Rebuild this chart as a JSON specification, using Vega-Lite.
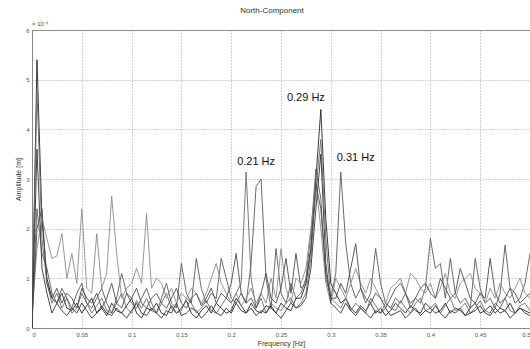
{
  "$schema": "https://vega.github.io/schema/vega-lite/v6.json",
  "width": 498,
  "height": 298,
  "autosize": "none",
  "padding": {"left": 32, "top": 30, "right": 0, "bottom": 21},
  "background": "white",
  "title": {"text": "North-Component", "fontSize": 8, "fontWeight": "normal", "color": "#333", "font": "Liberation Sans", "offset": 6, "dx": -9},
  "config": {
    "font": "Liberation Sans",
    "view": {"stroke": "#888", "strokeWidth": 1},
    "axis": {"labelFontSize": 6, "labelColor": "#555", "titleFontSize": 7, "titleFontWeight": "normal", "titleColor": "#333", "gridColor": "#999", "gridDash": [1, 2], "gridOpacity": 0.9, "ticks": false, "domainColor": "#888", "labelPadding": 3}
  },
  "layer": [
    {
      "data": {"values": [
        {"hz":0,"a":0.0,"b":0.1,"c":0.2,"d":0.3,"e":0.0,"f":0.1},
        {"hz":0.005,"a":5.4,"b":4.8,"c":2.4,"d":1.6,"e":3.6,"f":2.0},
        {"hz":0.01,"a":2.2,"b":1.8,"c":1.5,"d":2.2,"e":1.2,"f":2.4},
        {"hz":0.015,"a":1.0,"b":0.9,"c":1.2,"d":1.8,"e":0.7,"f":0.9},
        {"hz":0.02,"a":0.6,"b":0.5,"c":0.7,"d":1.4,"e":0.3,"f":0.6},
        {"hz":0.025,"a":0.5,"b":0.7,"c":0.5,"d":1.45,"e":0.5,"f":0.8},
        {"hz":0.03,"a":0.7,"b":0.4,"c":0.8,"d":1.9,"e":0.35,"f":0.5},
        {"hz":0.035,"a":0.4,"b":0.6,"c":0.6,"d":1.0,"e":0.25,"f":0.7},
        {"hz":0.04,"a":0.35,"b":0.3,"c":0.4,"d":1.5,"e":0.4,"f":0.6},
        {"hz":0.045,"a":0.5,"b":0.4,"c":0.7,"d":0.9,"e":0.3,"f":0.4},
        {"hz":0.05,"a":0.3,"b":0.7,"c":0.9,"d":2.4,"e":0.5,"f":0.8},
        {"hz":0.055,"a":0.45,"b":0.5,"c":0.5,"d":0.8,"e":0.35,"f":0.6},
        {"hz":0.06,"a":0.6,"b":0.3,"c":0.4,"d":0.7,"e":0.2,"f":0.5},
        {"hz":0.065,"a":0.3,"b":0.45,"c":0.6,"d":1.9,"e":0.3,"f":0.7},
        {"hz":0.07,"a":0.4,"b":0.6,"c":0.8,"d":0.8,"e":0.45,"f":0.4},
        {"hz":0.075,"a":0.25,"b":0.35,"c":0.5,"d":1.1,"e":0.3,"f":0.6},
        {"hz":0.08,"a":0.5,"b":0.3,"c":0.3,"d":2.65,"e":0.25,"f":0.9},
        {"hz":0.085,"a":0.35,"b":0.5,"c":0.6,"d":1.5,"e":0.4,"f":0.5},
        {"hz":0.09,"a":0.3,"b":0.7,"c":1.1,"d":0.6,"e":0.3,"f":0.4},
        {"hz":0.095,"a":0.45,"b":0.4,"c":0.7,"d":0.8,"e":0.2,"f":0.7},
        {"hz":0.1,"a":0.6,"b":0.3,"c":0.5,"d":0.9,"e":0.35,"f":0.6},
        {"hz":0.105,"a":0.3,"b":0.55,"c":0.4,"d":1.2,"e":0.5,"f":0.8},
        {"hz":0.11,"a":0.2,"b":0.4,"c":0.6,"d":0.9,"e":0.3,"f":0.5},
        {"hz":0.115,"a":0.4,"b":0.6,"c":0.8,"d":2.3,"e":0.25,"f":0.4},
        {"hz":0.12,"a":0.35,"b":0.35,"c":0.5,"d":0.8,"e":0.4,"f":0.6},
        {"hz":0.125,"a":0.5,"b":0.3,"c":0.3,"d":1.0,"e":0.3,"f":0.7},
        {"hz":0.13,"a":0.3,"b":0.5,"c":0.6,"d":0.9,"e":0.2,"f":0.5},
        {"hz":0.135,"a":0.25,"b":0.7,"c":0.9,"d":0.6,"e":0.35,"f":0.4},
        {"hz":0.14,"a":0.45,"b":0.4,"c":0.5,"d":0.8,"e":0.3,"f":0.6},
        {"hz":0.145,"a":0.3,"b":0.3,"c":0.4,"d":0.5,"e":0.5,"f":0.8},
        {"hz":0.15,"a":0.4,"b":0.35,"c":1.3,"d":0.7,"e":0.25,"f":0.5},
        {"hz":0.155,"a":0.55,"b":0.6,"c":0.7,"d":0.6,"e":0.3,"f":0.4},
        {"hz":0.16,"a":0.3,"b":0.5,"c":0.5,"d":0.8,"e":0.4,"f":0.6},
        {"hz":0.165,"a":0.2,"b":0.3,"c":1.4,"d":0.7,"e":0.35,"f":0.7},
        {"hz":0.17,"a":0.35,"b":0.4,"c":0.8,"d":0.5,"e":0.2,"f":0.45},
        {"hz":0.175,"a":0.45,"b":0.55,"c":0.5,"d":0.7,"e":0.3,"f":0.6},
        {"hz":0.18,"a":0.3,"b":0.35,"c":0.7,"d":1.0,"e":0.45,"f":0.8},
        {"hz":0.185,"a":0.5,"b":0.3,"c":0.6,"d":1.3,"e":0.3,"f":0.5},
        {"hz":0.19,"a":0.4,"b":0.45,"c":1.4,"d":0.9,"e":0.25,"f":0.7},
        {"hz":0.195,"a":0.3,"b":0.6,"c":1.0,"d":0.7,"e":0.4,"f":0.6},
        {"hz":0.2,"a":0.35,"b":0.5,"c":0.6,"d":0.5,"e":0.3,"f":0.9},
        {"hz":0.205,"a":0.6,"b":0.7,"c":0.5,"d":0.7,"e":0.5,"f":1.5},
        {"hz":0.21,"a":0.45,"b":0.9,"c":0.7,"d":0.45,"e":0.35,"f":0.7},
        {"hz":0.215,"a":0.3,"b":3.14,"c":0.5,"d":0.6,"e":0.3,"f":0.5},
        {"hz":0.22,"a":0.5,"b":1.0,"c":1.3,"d":0.8,"e":0.4,"f":0.6},
        {"hz":0.225,"a":0.35,"b":0.4,"c":2.85,"d":0.5,"e":0.25,"f":0.4},
        {"hz":0.23,"a":0.3,"b":0.6,"c":3.0,"d":0.7,"e":0.35,"f":0.7},
        {"hz":0.235,"a":0.45,"b":0.3,"c":1.0,"d":0.5,"e":0.3,"f":1.1},
        {"hz":0.24,"a":0.4,"b":0.5,"c":0.4,"d":1.0,"e":0.45,"f":0.6},
        {"hz":0.245,"a":0.3,"b":0.4,"c":1.6,"d":0.6,"e":0.3,"f":0.5},
        {"hz":0.25,"a":0.5,"b":0.35,"c":0.7,"d":1.6,"e":0.2,"f":0.8},
        {"hz":0.255,"a":0.4,"b":0.5,"c":0.5,"d":0.8,"e":0.35,"f":1.4},
        {"hz":0.26,"a":0.35,"b":0.6,"c":0.9,"d":0.5,"e":0.5,"f":0.7},
        {"hz":0.265,"a":0.6,"b":0.4,"c":0.6,"d":1.0,"e":0.4,"f":1.5},
        {"hz":0.27,"a":0.6,"b":0.5,"c":0.7,"d":0.9,"e":0.45,"f":0.8},
        {"hz":0.275,"a":0.9,"b":0.7,"c":1.0,"d":1.2,"e":0.6,"f":0.9},
        {"hz":0.28,"a":1.6,"b":1.4,"c":1.9,"d":2.0,"e":1.2,"f":1.6},
        {"hz":0.285,"a":3.0,"b":2.8,"c":3.2,"d":2.9,"e":2.4,"f":2.9},
        {"hz":0.29,"a":4.4,"b":3.8,"c":2.6,"d":2.0,"e":3.5,"f":2.4},
        {"hz":0.295,"a":2.2,"b":1.8,"c":1.0,"d":0.9,"e":1.3,"f":1.1},
        {"hz":0.3,"a":0.9,"b":0.6,"c":0.6,"d":0.5,"e":0.5,"f":0.6},
        {"hz":0.305,"a":0.7,"b":0.5,"c":1.1,"d":1.0,"e":0.4,"f":0.6},
        {"hz":0.31,"a":0.5,"b":0.4,"c":3.14,"d":0.8,"e":0.3,"f":0.9},
        {"hz":0.315,"a":0.6,"b":0.6,"c":1.7,"d":0.6,"e":0.5,"f":0.7},
        {"hz":0.32,"a":0.4,"b":0.35,"c":0.9,"d":0.9,"e":0.35,"f":1.2},
        {"hz":0.325,"a":0.3,"b":0.5,"c":0.6,"d":1.2,"e":0.25,"f":1.7},
        {"hz":0.33,"a":0.45,"b":0.4,"c":0.8,"d":0.9,"e":0.4,"f":0.8},
        {"hz":0.335,"a":0.35,"b":0.3,"c":0.5,"d":0.7,"e":0.3,"f":0.6},
        {"hz":0.34,"a":0.5,"b":0.6,"c":0.7,"d":1.0,"e":0.2,"f":0.5},
        {"hz":0.345,"a":0.3,"b":0.45,"c":1.6,"d":0.8,"e":0.35,"f":0.7},
        {"hz":0.35,"a":0.4,"b":0.3,"c":0.9,"d":0.6,"e":0.3,"f":0.6},
        {"hz":0.355,"a":0.25,"b":0.5,"c":0.5,"d":0.5,"e":0.4,"f":0.4},
        {"hz":0.36,"a":0.35,"b":0.4,"c":0.4,"d":0.8,"e":0.25,"f":0.6},
        {"hz":0.365,"a":0.5,"b":0.35,"c":0.6,"d":0.9,"e":0.3,"f":0.8},
        {"hz":0.37,"a":0.4,"b":0.55,"c":0.5,"d":1.0,"e":0.35,"f":0.9},
        {"hz":0.375,"a":0.3,"b":0.4,"c":0.7,"d":0.7,"e":0.2,"f":0.7},
        {"hz":0.38,"a":0.45,"b":0.3,"c":0.4,"d":1.1,"e":0.3,"f":0.5},
        {"hz":0.385,"a":0.35,"b":0.5,"c":0.6,"d":1.0,"e":0.4,"f":0.6},
        {"hz":0.39,"a":0.3,"b":0.6,"c":0.5,"d":0.8,"e":0.25,"f":0.8},
        {"hz":0.395,"a":0.5,"b":0.35,"c":0.8,"d":0.7,"e":0.35,"f":0.9},
        {"hz":0.4,"a":0.4,"b":0.4,"c":1.8,"d":0.9,"e":0.3,"f":0.7},
        {"hz":0.405,"a":0.3,"b":0.5,"c":1.2,"d":0.6,"e":0.45,"f":0.6},
        {"hz":0.41,"a":0.35,"b":0.3,"c":1.3,"d":0.8,"e":0.3,"f":1.0},
        {"hz":0.415,"a":0.5,"b":0.45,"c":0.6,"d":1.1,"e":0.2,"f":0.8},
        {"hz":0.42,"a":0.3,"b":0.6,"c":1.4,"d":0.7,"e":0.35,"f":0.6},
        {"hz":0.425,"a":0.4,"b":0.35,"c":0.7,"d":0.6,"e":0.3,"f":0.7},
        {"hz":0.43,"a":0.35,"b":0.4,"c":0.5,"d":0.9,"e":0.4,"f":1.2},
        {"hz":0.435,"a":0.25,"b":0.5,"c":0.6,"d":1.0,"e":0.25,"f":0.9},
        {"hz":0.44,"a":0.4,"b":0.3,"c":0.4,"d":1.1,"e":0.3,"f":0.6},
        {"hz":0.445,"a":0.5,"b":0.4,"c":1.4,"d":0.8,"e":0.35,"f":0.5},
        {"hz":0.45,"a":0.3,"b":0.55,"c":0.8,"d":0.7,"e":0.45,"f":0.7},
        {"hz":0.455,"a":0.35,"b":0.35,"c":0.5,"d":0.5,"e":0.3,"f":0.6},
        {"hz":0.46,"a":0.45,"b":0.3,"c":0.6,"d":0.8,"e":0.25,"f":1.4},
        {"hz":0.465,"a":0.3,"b":0.5,"c":0.4,"d":0.6,"e":0.4,"f":0.7},
        {"hz":0.47,"a":0.4,"b":0.4,"c":0.7,"d":0.9,"e":0.3,"f":0.5},
        {"hz":0.475,"a":0.35,"b":0.6,"c":1.67,"d":0.7,"e":0.35,"f":0.6},
        {"hz":0.48,"a":0.5,"b":0.35,"c":0.8,"d":0.6,"e":0.2,"f":0.8},
        {"hz":0.485,"a":0.3,"b":0.3,"c":0.5,"d":0.8,"e":0.3,"f":0.7},
        {"hz":0.49,"a":0.4,"b":0.45,"c":0.6,"d":1.0,"e":0.4,"f":0.5},
        {"hz":0.495,"a":0.35,"b":0.5,"c":0.9,"d":0.7,"e":0.3,"f":0.6},
        {"hz":0.5,"a":0.3,"b":0.35,"c":1.5,"d":0.6,"e":0.25,"f":0.7}
      ]},
      "transform": [{"fold": ["a", "b", "c", "d", "e", "f"], "as": ["series", "amp"]}],
      "mark": {"type": "line", "strokeWidth": 0.9, "clip": true},
      "encoding": {
        "x": {"field": "hz", "type": "quantitative", "scale": {"domain": [0, 0.5], "nice": false},
              "axis": {"values": [0, 0.05, 0.1, 0.15, 0.2, 0.25, 0.3, 0.35, 0.4, 0.45, 0.5], "format": "~g", "title": "Frequency [Hz]", "titlePadding": 2}},
        "y": {"field": "amp", "type": "quantitative", "scale": {"domain": [0, 6], "nice": false},
              "axis": {"values": [0, 1, 2, 3, 4, 5, 6], "title": "Amplitude [m]", "titlePadding": 4}},
        "color": {"field": "series", "type": "nominal", "legend": null,
                  "scale": {"domain": ["a", "b", "c", "d", "e", "f"], "range": ["#222222", "#6a6a6a", "#5a5a5a", "#8a8a8a", "#333333", "#4a4a4a"]}},
        "order": {"field": "hz", "type": "quantitative"}
      }
    },
    {
      "data": {"values": [
        {"hz": 0.275, "amp": 4.63, "label": "0.29 Hz"},
        {"hz": 0.225, "amp": 3.34, "label": "0.21 Hz"},
        {"hz": 0.325, "amp": 3.42, "label": "0.31 Hz"}
      ]},
      "mark": {"type": "text", "fontSize": 11, "color": "#111", "align": "center", "baseline": "middle"},
      "encoding": {
        "x": {"field": "hz", "type": "quantitative"},
        "y": {"field": "amp", "type": "quantitative"},
        "text": {"field": "label"}
      }
    },
    {
      "data": {"values": [{"hz": 0, "amp": 6, "label": "× 10⁻⁴"}]},
      "mark": {"type": "text", "fontSize": 6, "color": "#555", "align": "left", "baseline": "bottom", "dy": -3},
      "encoding": {
        "x": {"field": "hz", "type": "quantitative"},
        "y": {"field": "amp", "type": "quantitative"},
        "text": {"field": "label"}
      }
    }
  ]
}
